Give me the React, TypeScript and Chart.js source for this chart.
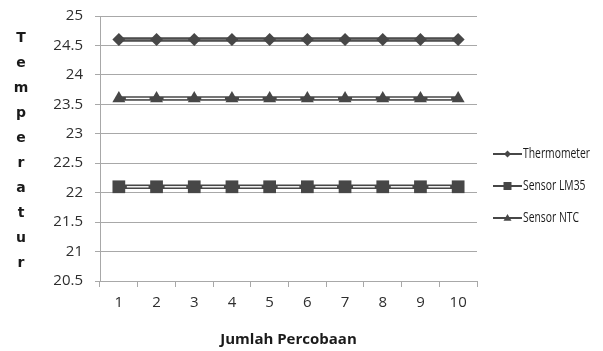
import React, { useEffect, useRef } from 'react';
import { Chart, registerables } from 'chart.js';

Chart.register(...registerables);

const categories = ['1', '2', '3', '4', '5', '6', '7', '8', '9', '10'];
const thermometer = [24.6, 24.6, 24.6, 24.6, 24.6, 24.6, 24.6, 24.6, 24.6, 24.6];
const sensorLM35 = [22.1, 22.1, 22.1, 22.1, 22.1, 22.1, 22.1, 22.1, 22.1, 22.1];
const sensorNTC = [23.6, 23.6, 23.6, 23.6, 23.6, 23.6, 23.6, 23.6, 23.6, 23.6];
const seriesNames = ['Thermometer', 'Sensor LM35', 'Sensor NTC'];
const yMin = 20.5;
const yMax = 25;
const yStep = 0.5;
const yTitle = 'Temperatur';
const xTitle = 'Jumlah Percobaan';

const DARK = '#474747';
const GRID = '#a8a8a8';
const TEXT = '#2e2e2e';

const innerColors = ['#707070', '#ffffff', '#ffffff'];
const markerHalf = [6, 8, 7];
const styles: any[] = ['rectRot', 'rect', 'triangle'];

function drawMarker(ctx: CanvasRenderingContext2D, style: string, x: number, y: number, r: number) {
  ctx.beginPath();
  if (style === 'rectRot') {
    ctx.moveTo(x, y - r);
    ctx.lineTo(x + r, y);
    ctx.lineTo(x, y + r);
    ctx.lineTo(x - r, y);
  } else if (style === 'rect') {
    ctx.rect(x - r, y - r, 2 * r, 2 * r);
  } else {
    ctx.moveTo(x, y - r);
    ctx.lineTo(x + r, y + r * 0.7);
    ctx.lineTo(x - r, y + r * 0.7);
  }
  ctx.closePath();
  ctx.fill();
}

const decorPlugin = {
  id: 'decor',
  afterDatasetDraw(chart: any, args: any) {
    const ctx = chart.ctx;
    const pts = args.meta.data;
    const i = args.index;
    const r = markerHalf[i];
    ctx.save();
    ctx.strokeStyle = innerColors[i];
    ctx.lineWidth = 1.4;
    for (let k = 0; k < pts.length - 1; k++) {
      ctx.beginPath();
      ctx.moveTo(pts[k].x + r, pts[k].y);
      ctx.lineTo(pts[k + 1].x - r, pts[k + 1].y);
      ctx.stroke();
    }
    ctx.restore();
  },
  afterDraw(chart: any) {
    const ctx = chart.ctx;
    const area = chart.chartArea;
    ctx.save();
    // y title (stacked letters)
    ctx.fillStyle = '#1a1a1a';
    ctx.font = 'bold 14px "DejaVu Sans"';
    ctx.textAlign = 'center';
    ctx.textBaseline = 'middle';
    const letters = yTitle.split('');
    letters.forEach((ch, k) => {
      ctx.fillText(ch, 21, 38 + k * 25);
    });
    // x title
    ctx.font = 'bold 15px "Open Sans"';
    ctx.fillStyle = '#1a1a1a';
    ctx.fillText(xTitle, (area.left + area.right) / 2, 340);
    // legend
    const legendY = [154, 186, 218];
    ctx.font = '14px "Open Sans"';
    ctx.textAlign = 'left';
    seriesNames.forEach((name, k) => {
      const y = legendY[k];
      ctx.strokeStyle = DARK;
      ctx.lineWidth = 2;
      ctx.beginPath();
      ctx.moveTo(493, y);
      ctx.lineTo(522, y);
      ctx.stroke();
      ctx.fillStyle = DARK;
      drawMarker(ctx, styles[k], 507.5, y, k === 0 ? 3.5 : 4);
      ctx.fillStyle = '#1a1a1a';
      ctx.save();
      ctx.translate(523, y);
      ctx.scale(0.74, 1);
      ctx.fillText(name, 0, 0);
      ctx.restore();
    });
    ctx.restore();
  },
};

export default function App() {
  const ref = useRef<HTMLCanvasElement>(null);
  useEffect(() => {
    if (!ref.current) return;
    const chart = new Chart(ref.current, {
      type: 'line',
      data: {
        labels: categories,
        datasets: [thermometer, sensorLM35, sensorNTC].map((d, i) => ({
          label: seriesNames[i],
          data: d,
          borderColor: DARK,
          backgroundColor: DARK,
          borderWidth: 4.5,
          pointStyle: styles[i],
          pointRadius: [6.5, 9, 7.5][i],
          pointBackgroundColor: DARK,
          pointBorderColor: DARK,
          pointBorderWidth: 0,
          tension: 0,
          fill: false,
        })),
      },
      options: {
        responsive: false,
        animation: false,
        layout: { padding: { top: 16, right: 126, left: 0, bottom: 0 } },
        plugins: { legend: { display: false }, tooltip: { enabled: false } },
        scales: {
          x: {
            offset: true,
            grid: { display: true, drawOnChartArea: false, drawTicks: true, tickLength: 6, color: GRID, offset: true },
            border: { color: GRID, width: 1 },
            ticks: { color: TEXT, font: { family: 'Open Sans', size: 15 }, padding: 7, maxRotation: 0 },
            afterFit: (s: any) => { s.height = 70; },
          },
          y: {
            min: yMin,
            max: yMax,
            grid: { color: GRID, tickLength: 5, lineWidth: 1 },
            border: { color: GRID, width: 1 },
            ticks: {
              stepSize: yStep,
              color: TEXT,
              font: { family: 'Open Sans', size: 15 },
              padding: 12,
              callback: (v: any) => String(v),
            },
            afterFit: (s: any) => { s.width = 100; s.paddingTop = 2; s.paddingBottom = 2; },
          },
        },
      },
      plugins: [decorPlugin],
    });
    return () => chart.destroy();
  }, []);
  return (
    <div style={{ position: 'absolute', left: 0, top: 0, width: 603, height: 351, background: '#fff' }}>
      <canvas ref={ref} width={603} height={351} style={{ display: 'block' }} />
    </div>
  );
}
